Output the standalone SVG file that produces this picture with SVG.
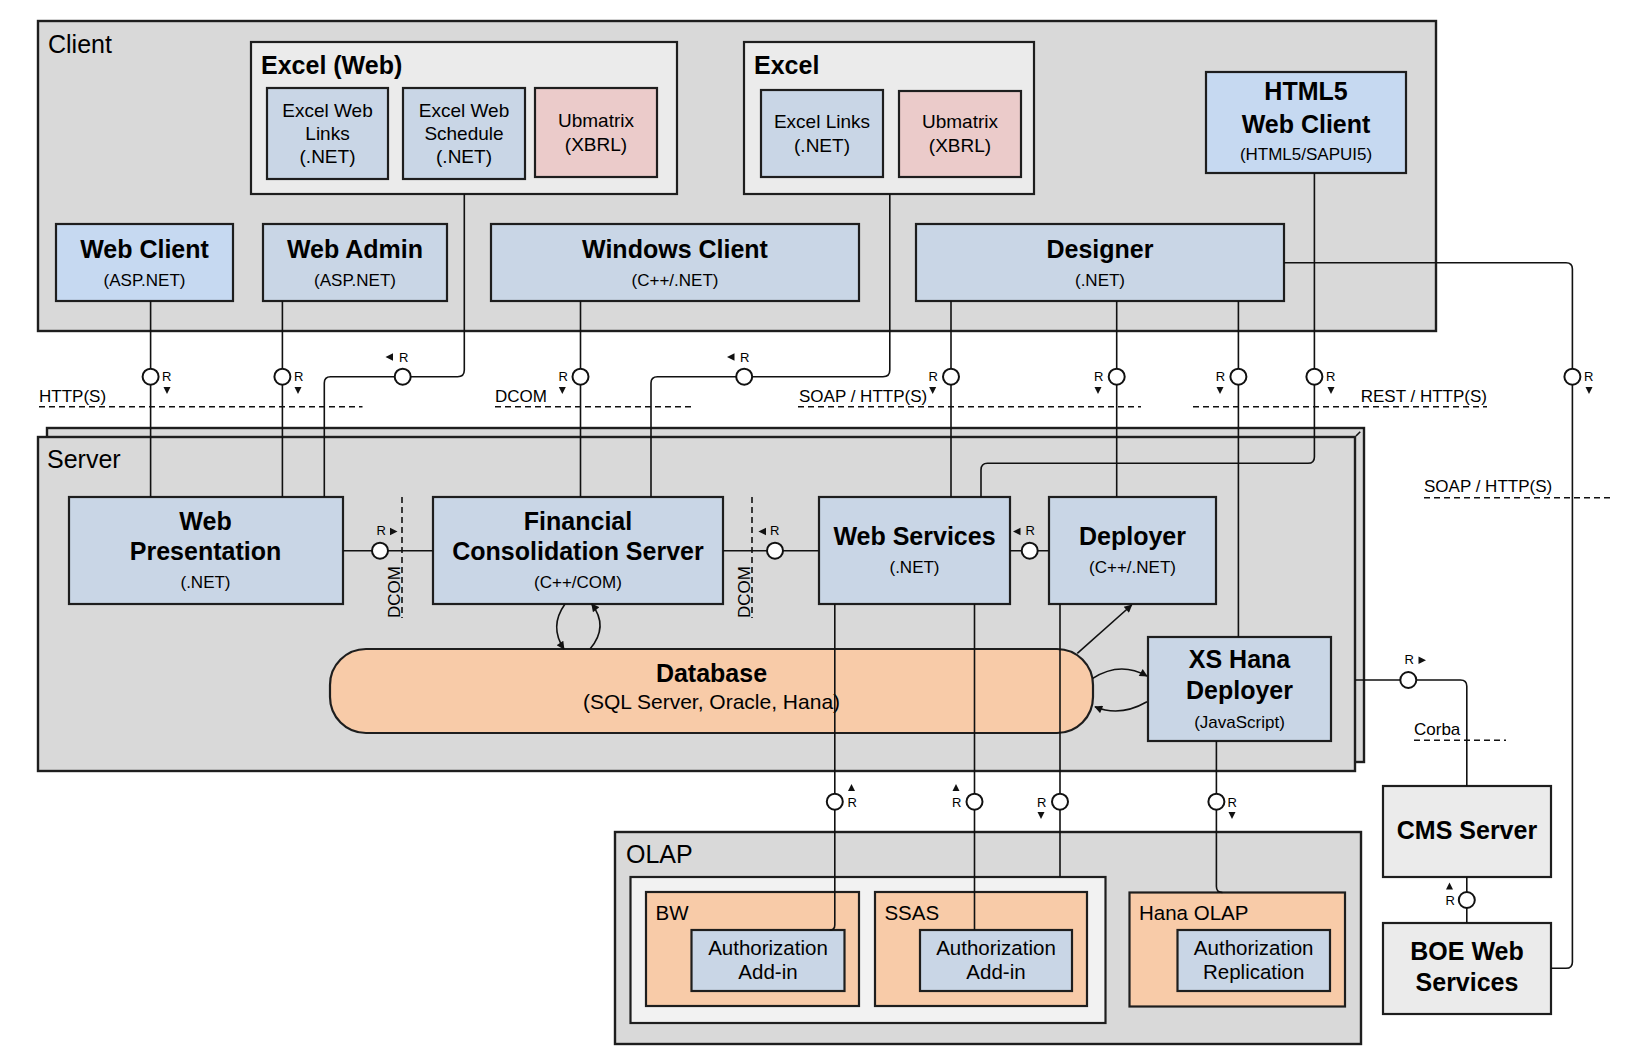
<svg xmlns="http://www.w3.org/2000/svg" width="1642" height="1060" viewBox="0 0 1642 1060">
<defs>
<marker id="ah" viewBox="0 0 10 10" refX="9" refY="5" markerWidth="10" markerHeight="8" markerUnits="userSpaceOnUse" orient="auto">
<path d="M0,0 L10,5 L0,10 Z" fill="#111"/>
</marker>
</defs>
<style>
text{font-family:"Liberation Sans",Arial,sans-serif;fill:#000}
.cont{fill:#d9d9d9;stroke:#1e1e1e;stroke-width:2.4}
.lt{fill:#ebebeb;stroke:#1e1e1e;stroke-width:2.2}
.lt2{fill:#f2f2f2;stroke:#1e1e1e;stroke-width:2.2}
.bl{fill:#c9d6e6;stroke:#1e1e1e;stroke-width:2.2}
.bl2{fill:#c6d9f1;stroke:#1e1e1e;stroke-width:2.2}
.pk{fill:#ebcbca;stroke:#1e1e1e;stroke-width:2.2}
.pe{fill:#f8cba8;stroke:#1e1e1e;stroke-width:2.2}
.t{font-size:25px;font-weight:bold;text-anchor:middle}
.s{font-size:17px;text-anchor:middle}
.m{font-size:19px;text-anchor:middle}
.o{font-size:20.5px;text-anchor:middle}
.ol{font-size:20.5px}
.lab{font-size:25px}
.p{font-size:17px}
.r{font-size:13px}
.ln{fill:none;stroke:#111;stroke-width:1.6}
.arr{fill:none;stroke:#111;stroke-width:1.6;marker-end:url(#ah)}
.ds{fill:none;stroke:#111;stroke-width:1.6;stroke-dasharray:6 4}
.bc{fill:#fff;stroke:#111;stroke-width:2}
.tri{fill:#111}
</style>
<rect width="1642" height="1060" fill="#fff"/>

<g id="client">
<rect class="cont" x="38" y="21" width="1398" height="310"/>
<text class="lab" x="48" y="53">Client</text>
</g>
<g id="excel-web">
<rect class="lt" x="251" y="42" width="426" height="152"/>
<text class="lab" x="261" y="73.5" font-weight="bold">Excel (Web)</text>
</g>
<g id="excel-web-links">
<rect class="bl" x="267" y="88" width="121" height="91"/>
<text class="m" x="327.5" y="117">Excel Web</text><text class="m" x="327.5" y="140">Links</text><text class="m" x="327.5" y="163">(.NET)</text>
</g>
<g id="excel-web-schedule">
<rect class="bl" x="403" y="88" width="122" height="91"/>
<text class="m" x="464" y="117">Excel Web</text><text class="m" x="464" y="140">Schedule</text><text class="m" x="464" y="163">(.NET)</text>
</g>
<g id="ubmatrix-web">
<rect class="pk" x="535" y="88" width="122" height="89"/>
<text class="m" x="596" y="127">Ubmatrix</text><text class="m" x="596" y="151">(XBRL)</text>
</g>
<g id="excel">
<rect class="lt" x="744" y="42" width="290" height="152"/>
<text class="lab" x="754" y="73.5" font-weight="bold">Excel</text>
</g>
<g id="excel-links">
<rect class="bl" x="761" y="90" width="122" height="87"/>
<text class="m" x="822" y="128">Excel Links</text><text class="m" x="822" y="152">(.NET)</text>
</g>
<g id="ubmatrix">
<rect class="pk" x="899" y="91" width="122" height="86"/>
<text class="m" x="960" y="128">Ubmatrix</text><text class="m" x="960" y="152">(XBRL)</text>
</g>
<g id="html5">
<rect class="bl2" x="1206" y="72" width="200" height="101"/>
<text class="t" x="1306" y="100">HTML5</text><text class="t" x="1306" y="133">Web Client</text><text class="s" x="1306" y="160">(HTML5/SAPUI5)</text>
</g>
<g id="web-client">
<rect class="bl2" x="56" y="224" width="177" height="77"/>
<text class="t" x="144.5" y="258">Web Client</text><text class="s" x="144.5" y="286">(ASP.NET)</text>
</g>
<g id="web-admin">
<rect class="bl" x="263" y="224" width="184" height="77"/>
<text class="t" x="355" y="258">Web Admin</text><text class="s" x="355" y="286">(ASP.NET)</text>
</g>
<g id="windows-client">
<rect class="bl" x="491" y="224" width="368" height="77"/>
<text class="t" x="675" y="258">Windows Client</text><text class="s" x="675" y="286">(C++/.NET)</text>
</g>
<g id="designer">
<rect class="bl" x="916" y="224" width="368" height="77"/>
<text class="t" x="1100" y="258">Designer</text><text class="s" x="1100" y="286">(.NET)</text>
</g>

<g id="server">
<rect class="cont" x="47" y="428" width="1317" height="334"/>
<path class="ds" d="M1356,436 L1364,428" stroke-dasharray="2 2"/>
<rect class="cont" x="38" y="437" width="1317" height="334"/>
<text class="lab" x="47" y="468">Server</text>
</g>
<g id="web-presentation">
<rect class="bl" x="69" y="497" width="274" height="107"/>
<text class="t" x="205.5" y="530">Web</text><text class="t" x="205.5" y="560">Presentation</text><text class="s" x="205.5" y="588">(.NET)</text>
</g>
<g id="fcs">
<rect class="bl" x="433" y="497" width="290" height="107"/>
<text class="t" x="578" y="530">Financial</text><text class="t" x="578" y="560">Consolidation Server</text><text class="s" x="578" y="588">(C++/COM)</text>
</g>
<g id="web-services">
<rect class="bl" x="819" y="497" width="191" height="107"/>
<text class="t" x="914.5" y="545">Web Services</text><text class="s" x="914.5" y="573">(.NET)</text>
</g>
<g id="deployer">
<rect class="bl" x="1049" y="497" width="167" height="107"/>
<text class="t" x="1132.5" y="545">Deployer</text><text class="s" x="1132.5" y="573">(C++/.NET)</text>
</g>
<g id="database">
<rect class="pe" x="330" y="649" width="763" height="84" rx="36" ry="36"/>
<text class="t" x="711.5" y="681.7">Database</text><text x="711.5" y="708.5" font-size="21" text-anchor="middle">(SQL Server, Oracle, Hana)</text>
</g>
<g id="xs-hana">
<rect class="bl" x="1148" y="637" width="183" height="104"/>
<text class="t" x="1239.5" y="668.3">XS Hana</text><text class="t" x="1239.5" y="699.3">Deployer</text><text class="s" x="1239.5" y="727.7">(JavaScript)</text>
</g>

<g id="olap">
<rect class="cont" x="615" y="832" width="746" height="212"/>
<text class="lab" x="626" y="862.7">OLAP</text>
<rect class="lt2" x="630.5" y="877" width="475" height="146"/>
</g>
<g id="bw">
<rect class="pe" x="646" y="892" width="213" height="114"/>
<text class="ol" x="655.5" y="920">BW</text>
<rect class="bl" x="691.5" y="930" width="153" height="61"/>
<text class="o" x="768" y="955">Authorization</text><text class="o" x="768" y="979.3">Add-in</text>
</g>
<g id="ssas">
<rect class="pe" x="875" y="892" width="212" height="114"/>
<text class="ol" x="884.4" y="920">SSAS</text>
<rect class="bl" x="920" y="930" width="152" height="61"/>
<text class="o" x="996" y="955">Authorization</text><text class="o" x="996" y="979.3">Add-in</text>
</g>
<g id="hana-olap">
<rect class="pe" x="1129.5" y="892.5" width="215.5" height="114"/>
<text class="ol" x="1139" y="920">Hana OLAP</text>
<rect class="bl" x="1177.5" y="930" width="152.5" height="61"/>
<text class="o" x="1253.7" y="955">Authorization</text><text class="o" x="1253.7" y="979.3">Replication</text>
</g>

<g id="cms">
<rect class="lt" x="1383" y="786" width="168" height="91"/>
<text class="t" x="1467" y="839.3">CMS Server</text>
</g>
<g id="boe">
<rect class="lt" x="1383" y="923" width="168" height="91"/>
<text class="t" x="1467" y="960">BOE Web</text><text class="t" x="1467" y="991">Services</text>
</g>

<g id="connectors">
<path class="ln" d="M150.6,301 V497"/>
<path class="ln" d="M282.4,301 V497"/>
<path class="ln" d="M464.3,194 V370 Q464.3,376.7 457.6,376.7 H330.5 Q324.3,376.7 324.3,383 V497"/>
<path class="ln" d="M580.5,301 V497"/>
<path class="ln" d="M889.8,194 V370 Q889.8,376.7 883,376.7 H657.5 Q651,376.7 651,383 V497"/>
<path class="ln" d="M951,301 V497"/>
<path class="ln" d="M1116.7,301 V497"/>
<path class="ln" d="M1238.4,301 V637"/>
<path class="ln" d="M1314.4,173 V457 Q1314.4,463.3 1308,463.3 H987.5 Q981,463.3 981,470 V497"/>
<path class="ln" d="M1284,262.7 H1566 Q1572.4,262.7 1572.4,269 V962 Q1572.4,968.3 1566,968.3 H1551"/>
<path class="ln" d="M343,550.7 H433"/>
<path class="ln" d="M723,550.7 H819"/>
<path class="ln" d="M1010,550.7 H1049"/>
<path class="ln" d="M834.8,604 V925 Q834.8,930 829.8,930"/>
<path class="ln" d="M974.5,604 V930"/>
<path class="ln" d="M1060,604 V877"/>
<path class="ln" d="M1216.4,741 V886.5 Q1216.4,892.5 1222.4,892.5"/>
<path class="ln" d="M1355,680 H1460.5 Q1466.8,680 1466.8,686.3 V786"/>
<path class="ln" d="M1466.8,877 V923"/>

<path class="arr" d="M565,604 Q548.9,626.5 564,649"/>
<path class="arr" d="M590,649 Q609.2,626.5 591.7,604"/>
<path class="arr" d="M1077.3,653.3 L1131.7,605"/>
<path class="arr" d="M1092.7,678.3 Q1120,660.8 1147,676"/>
<path class="arr" d="M1147,701.7 Q1120,717.2 1095,706.7"/>

<path class="ds" d="M39,406.7 H362.5"/>
<path class="ds" d="M495,406.7 H693"/>
<path class="ds" d="M798,406.7 H1141"/>
<path class="ds" d="M1193,406.7 H1487"/>
<path class="ds" d="M1424,497.7 H1610"/>
<path class="ds" d="M1414,740.3 H1506"/>
<path class="ds" d="M402,497 V618"/>
<path class="ds" d="M752,497 V618"/>

<text class="p" x="39" y="401.7">HTTP(S)</text>
<text class="p" x="495" y="401.7">DCOM</text>
<text class="p" x="799" y="401.7">SOAP / HTTP(S)</text>
<text class="p" x="1487" y="401.7" text-anchor="end">REST / HTTP(S)</text>
<text class="p" x="1424" y="491.7">SOAP / HTTP(S)</text>
<text class="p" x="1414" y="735" font-size="16.5">Corba</text>
<text class="p" transform="translate(399.5,618) rotate(-90)">DCOM</text>
<text class="p" transform="translate(749.5,618) rotate(-90)">DCOM</text>

<circle class="bc" cx="150.6" cy="376.7" r="8"/>
<circle class="bc" cx="282.4" cy="376.7" r="8"/>
<circle class="bc" cx="402.7" cy="376.7" r="8"/>
<circle class="bc" cx="580.5" cy="376.7" r="8"/>
<circle class="bc" cx="744.2" cy="376.7" r="8"/>
<circle class="bc" cx="951" cy="376.7" r="8"/>
<circle class="bc" cx="1116.7" cy="376.7" r="8"/>
<circle class="bc" cx="1238.4" cy="376.7" r="8"/>
<circle class="bc" cx="1314.4" cy="376.7" r="8"/>
<circle class="bc" cx="1572.4" cy="376.7" r="8"/>
<circle class="bc" cx="380" cy="550.7" r="8"/>
<circle class="bc" cx="775" cy="550.7" r="8"/>
<circle class="bc" cx="1029.7" cy="550.7" r="8"/>
<circle class="bc" cx="834.8" cy="801.7" r="8"/>
<circle class="bc" cx="974.5" cy="801.7" r="8"/>
<circle class="bc" cx="1060" cy="801.7" r="8"/>
<circle class="bc" cx="1216.4" cy="801.7" r="8"/>
<circle class="bc" cx="1408.3" cy="680" r="8"/>
<circle class="bc" cx="1466.8" cy="900" r="8"/>

<text class="r" x="162" y="381">R</text><path class="tri" d="M163.5,387 H170.5 L167,394 Z"/>
<text class="r" x="294" y="381">R</text><path class="tri" d="M294.5,387 H301.5 L298,394 Z"/>
<path class="tri" d="M385.5,357 L393,353.2 V360.8 Z"/><text class="r" x="399" y="361.7">R</text>
<text class="r" x="558.6" y="381">R</text><path class="tri" d="M558.8,387 H565.8 L562.3,394 Z"/>
<path class="tri" d="M727,357 L734.5,353.2 V360.8 Z"/><text class="r" x="740" y="361.7">R</text>
<text class="r" x="928.5" y="381">R</text><path class="tri" d="M929.2,387 H936.2 L932.7,394 Z"/>
<text class="r" x="1094" y="381">R</text><path class="tri" d="M1094.5,387 H1101.5 L1098,394 Z"/>
<text class="r" x="1215.8" y="381">R</text><path class="tri" d="M1216.5,387 H1223.5 L1220,394 Z"/>
<text class="r" x="1326" y="381">R</text><path class="tri" d="M1327.5,387 H1334.5 L1331,394 Z"/>
<text class="r" x="1584" y="381">R</text><path class="tri" d="M1585.5,387 H1592.5 L1589,394 Z"/>
<text class="r" x="376.6" y="535">R</text><path class="tri" d="M397.5,531.5 L390,527.7 V535.3 Z"/>
<path class="tri" d="M758.4,531.5 L766,527.7 V535.3 Z"/><text class="r" x="770" y="535">R</text>
<path class="tri" d="M1013,531.5 L1020.5,527.7 V535.3 Z"/><text class="r" x="1025.5" y="535">R</text>
<text class="r" x="847.6" y="806.5">R</text><path class="tri" d="M848,791 H855 L851.5,784 Z"/>
<text class="r" x="952" y="806.5">R</text><path class="tri" d="M952.5,791 H959.5 L956,784 Z"/>
<text class="r" x="1037" y="806.5">R</text><path class="tri" d="M1037.5,812 H1044.5 L1041,819 Z"/>
<text class="r" x="1227.5" y="806.5">R</text><path class="tri" d="M1228.5,812 H1235.5 L1232,819 Z"/>
<text class="r" x="1404.6" y="664">R</text><path class="tri" d="M1426,660.3 L1418.5,656.5 V664.1 Z"/>
<text class="r" x="1445.5" y="905">R</text><path class="tri" d="M1446,889.5 H1453 L1449.5,882.5 Z"/>
</g>
</svg>
